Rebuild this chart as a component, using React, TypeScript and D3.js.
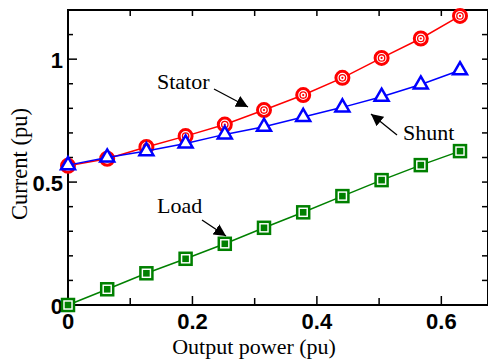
import React from "react";
import * as d3 from "d3";

// Output power (pu) sample points
const power = [0, 0.063, 0.126, 0.189, 0.252, 0.315, 0.378, 0.441, 0.504, 0.567, 0.63];
// Currents (pu)
const stator = [0.566, 0.595, 0.643, 0.687, 0.734, 0.793, 0.854, 0.924, 1.005, 1.084, 1.176];
const shunt = [0.569, 0.6, 0.626, 0.657, 0.694, 0.725, 0.765, 0.804, 0.847, 0.897, 0.955];
const load = [0, 0.064, 0.129, 0.188, 0.249, 0.314, 0.377, 0.443, 0.508, 0.569, 0.626];

const xMajor = [0, 0.2, 0.4, 0.6];
const xTickLabels = ["0", "0.2", "0.4", "0.6"];
const xMinor = [0.1, 0.3, 0.5];
const yMajor = [0, 0.5, 1];
const yTickLabels = ["0", "0.5", "1"];
const yMinor = [0.1, 0.2, 0.3, 0.4, 0.6, 0.7, 0.8, 0.9, 1.1];

const W = 488;
const H = 362;
const left = 68;
const right = 488;
const top = 10;
const bottom = 305;

const serif = "'Liberation Serif', 'Times New Roman', serif";
const sans = "'Liberation Sans', Arial, sans-serif";

export default function App() {
  const x = d3.scaleLinear().domain([0, 0.675]).range([left, right]);
  const y = d3.scaleLinear().domain([0, 1.2]).range([bottom, top]);
  const line = d3
    .line<number>()
    .x((_, i) => x(power[i]))
    .y((d) => y(d));

  const tri = d3.symbol().type(d3.symbolTriangle).size(85)();

  return (
    <svg
      width={W}
      height={H}
      style={{ position: "absolute", left: 0, top: 0, background: "#fff" }}
    >
      <defs>
        <marker
          id="arrow"
          viewBox="0 0 10 10"
          refX="10"
          refY="5"
          markerWidth="12"
          markerHeight="12"
          markerUnits="userSpaceOnUse"
          orient="auto"
        >
          <path d="M0,0 L10,5 L0,10 z" fill="#000" />
        </marker>
      </defs>

      {/* frame */}
      <rect
        x={left}
        y={top}
        width={right - left}
        height={bottom - top}
        fill="none"
        stroke="#000"
        strokeWidth={2}
      />

      {/* bottom and top ticks */}
      {xMajor.map((v) => (
        <g key={"xM" + v}>
          <line x1={x(v)} x2={x(v)} y1={bottom} y2={bottom - 9} stroke="#000" strokeWidth={1.5} />
          <line x1={x(v)} x2={x(v)} y1={top} y2={top + 6} stroke="#000" strokeWidth={1.5} />
        </g>
      ))}
      {xMinor.map((v) => (
        <g key={"xm" + v}>
          <line x1={x(v)} x2={x(v)} y1={bottom} y2={bottom - 7} stroke="#000" strokeWidth={1.5} />
          <line x1={x(v)} x2={x(v)} y1={top} y2={top + 6} stroke="#000" strokeWidth={1.5} />
        </g>
      ))}
      {/* left and right ticks */}
      {yMajor.map((v) => (
        <g key={"yM" + v}>
          <line x1={left} x2={left + 9} y1={y(v)} y2={y(v)} stroke="#000" strokeWidth={1.5} />
          <line x1={right} x2={right - 6} y1={y(v)} y2={y(v)} stroke="#000" strokeWidth={1.5} />
        </g>
      ))}
      {yMinor.map((v) => (
        <g key={"ym" + v}>
          <line x1={left} x2={left + 5} y1={y(v)} y2={y(v)} stroke="#000" strokeWidth={1.5} />
          <line x1={right} x2={right - 6} y1={y(v)} y2={y(v)} stroke="#000" strokeWidth={1.5} />
        </g>
      ))}

      {/* tick labels */}
      {xMajor.map((v, i) => (
        <text
          key={"xl" + v}
          x={x(v)}
          y={329}
          textAnchor="middle"
          fontFamily={sans}
          fontWeight="bold"
          fontSize={22}
        >
          {xTickLabels[i]}
        </text>
      ))}
      {yMajor.map((v, i) => (
        <text
          key={"yl" + v}
          x={63}
          y={y(v) + 9}
          textAnchor="end"
          fontFamily={sans}
          fontWeight="bold"
          fontSize={22}
        >
          {yTickLabels[i]}
        </text>
      ))}

      {/* axis titles */}
      <text x={254} y={354} textAnchor="middle" fontFamily={serif} fontSize={22}>
        Output power (pu)
      </text>
      <text
        transform={`translate(27,${164}) rotate(-90)`}
        textAnchor="middle"
        fontFamily={serif}
        fontSize={22.5}
      >
        Current (pu)
      </text>

      {/* Stator */}
      <path d={line(stator) ?? ""} fill="none" stroke="#ff0000" strokeWidth={1.5} />
      {stator.map((v, i) => (
        <g key={"s" + i} transform={`translate(${x(power[i])},${y(v)})`}>
          <circle r={6.5} fill="#fff" stroke="#ff0000" strokeWidth={3} />
          <circle r={3.2} fill="none" stroke="#ff0000" strokeWidth={1.3} />
          <circle r={1.1} fill="#ff0000" />
        </g>
      ))}

      {/* Shunt */}
      <path d={line(shunt) ?? ""} fill="none" stroke="#0000ff" strokeWidth={1.5} />
      {shunt.map((v, i) => (
        <path
          key={"h" + i}
          d={tri ?? ""}
          transform={`translate(${x(power[i])},${y(v)})`}
          fill="#fff"
          stroke="#0000ff"
          strokeWidth={2.5}
        />
      ))}

      {/* Load */}
      <path d={line(load) ?? ""} fill="none" stroke="#008000" strokeWidth={1.5} />
      {load.map((v, i) => (
        <g key={"l" + i} transform={`translate(${x(power[i])},${y(v)})`}>
          <rect x={-6} y={-6} width={12} height={12} fill="#fff" stroke="#008000" strokeWidth={2.5} />
          <rect x={-3.3} y={-3.3} width={6.6} height={6.6} fill="#008000" />
        </g>
      ))}

      {/* annotations */}
      <text x={157} y={89} fontFamily={serif} fontSize={22}>
        Stator
      </text>
      <line x1={214} y1={89} x2={248} y2={107} stroke="#000" strokeWidth={1.3} markerEnd="url(#arrow)" />
      <text x={403} y={140} fontFamily={serif} fontSize={22}>
        Shunt
      </text>
      <line x1={397} y1={135} x2={371} y2={114} stroke="#000" strokeWidth={1.3} markerEnd="url(#arrow)" />
      <text x={157} y={213} fontFamily={serif} fontSize={22}>
        Load
      </text>
      <line x1={202} y1={220} x2={226} y2={236} stroke="#000" strokeWidth={1.3} markerEnd="url(#arrow)" />
    </svg>
  );
}
